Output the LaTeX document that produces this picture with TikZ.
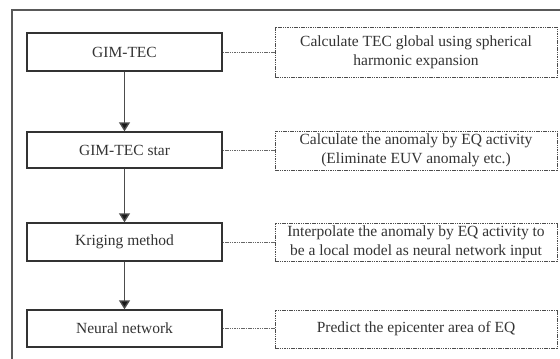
\documentclass[tikz,border=0pt]{standalone}
\usepackage{fontspec}
\setmainfont{Liberation Serif}
\usetikzlibrary{arrows.meta}
\begin{document}
\begin{tikzpicture}[x=1pt,y=-1pt,
  stepbox/.style={draw=black!80,line width=1.4pt,minimum width=195pt,inner sep=0pt,text=black!80,font=\fontsize{15.5}{19}\selectfont},
  notebox/.style={draw=black!70,line width=0.9pt,dash pattern=on 1.5pt off 0.8pt,minimum width=282pt,inner sep=0pt,text=black!80,align=center,font=\fontsize{15.5}{19}\selectfont},
  link/.style={draw=black!60,line width=0.8pt,dash pattern=on 1.5pt off 0.8pt},
  flow/.style={draw=black!70,line width=1.4pt,-{Triangle[length=9pt,width=11pt,fill=black!90]}}]
\useasboundingbox (0,0) rectangle (560,359);
\draw[black!65,line width=1.2pt] (12,380) -- (12,10) -- (580,10);
\node[stepbox,minimum height=38pt] (s1) at (124.5,52) {GIM-TEC};
\node[stepbox,minimum height=36pt] (s2) at (124.5,150) {GIM-TEC star};
\node[stepbox,minimum height=38pt] (s3) at (124.5,242) {Kriging method};
\node[stepbox,minimum height=37pt] (s4) at (124.5,328.5) {Neural network};
\node[notebox,minimum height=50pt] (n1) at (416,52) {Calculate TEC global using spherical\\harmonic expansion};
\node[notebox,minimum height=39pt] (n2) at (416,150.5) {Calculate the anomaly by EQ activity\\(Eliminate EUV anomaly etc.)};
\node[notebox,minimum height=38pt] (n3) at (416,242) {Interpolate the anomaly by EQ activity to\\be a local model as neural network input};
\node[notebox,minimum height=38pt] (n4) at (416,329) {Predict the epicenter area of EQ};
\draw[flow] (s1) -- (s2);
\draw[flow] (s2) -- (s3);
\draw[flow] (s3) -- (s4);
\draw[link] (s1) -- (n1);
\draw[link] (s2.east) -- (n2.west |- s2.east);
\draw[link] (s3) -- (n3);
\draw[link] (s4.east) -- (n4.west |- s4.east);
\end{tikzpicture}
\end{document}
